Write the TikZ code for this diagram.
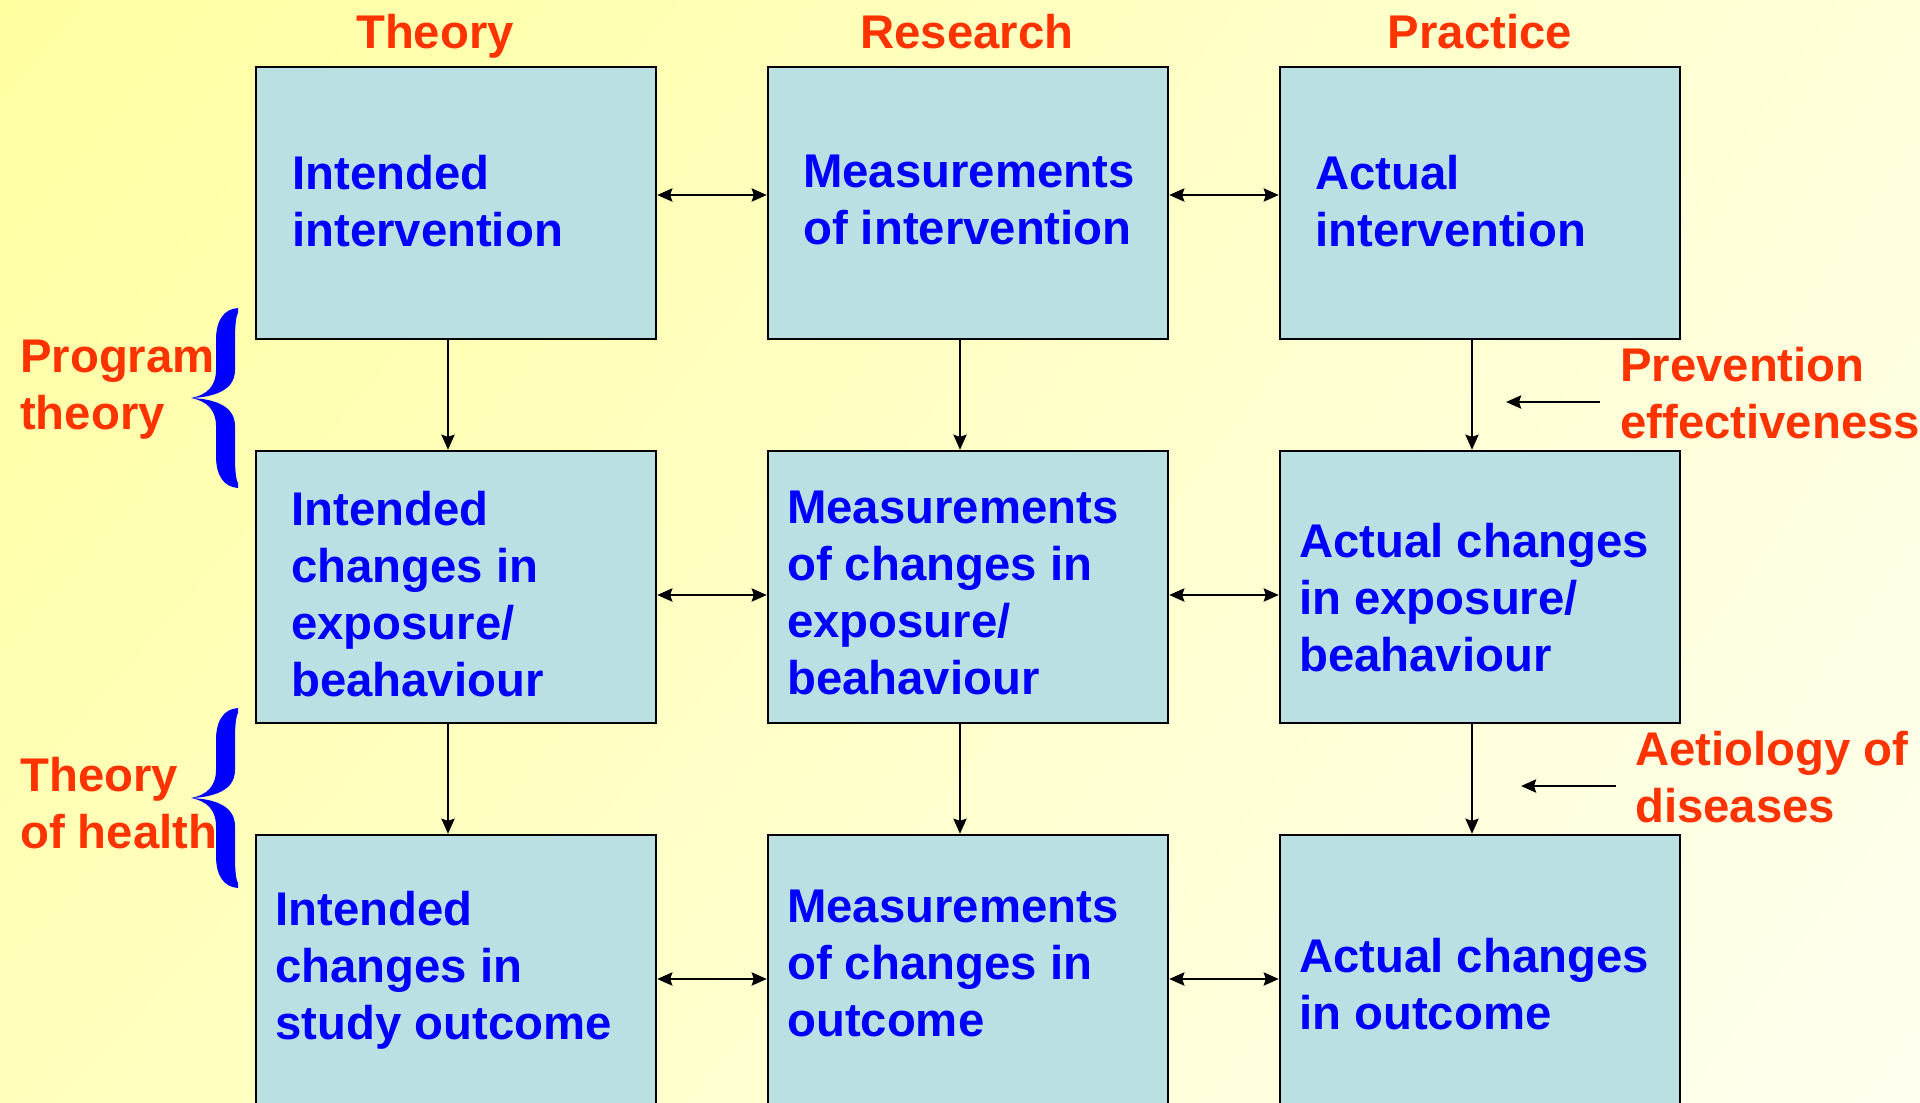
\documentclass[tikz,border=0pt]{standalone}
\usepackage{fontspec}
\setmainfont{Liberation Sans}
\usetikzlibrary{arrows.meta,shadings}

\definecolor{bgTL}{RGB}{255,255,160}
\definecolor{bgTR}{RGB}{255,255,218}
\definecolor{bgBL}{RGB}{255,255,188}
\definecolor{bgBR}{RGB}{255,255,240}
\definecolor{boxfill}{RGB}{187,224,227}
\definecolor{txtblue}{RGB}{0,0,255}
\definecolor{labred}{RGB}{255,51,0}

\newcommand\diagfont{\fontsize{47.3}{57}\selectfont\bfseries}

% curly brace as a filled outline; #1 = top y, #2 = bottom y (y grows downward)
\newcommand\curlybrace[2]{%
  \fill[txtblue]
    (238,#1) .. controls (224,#1+1) and (216,#1+12) .. (216,#1+32)
    -- (216,{(#1+#2)/2-28})
    .. controls (216,{(#1+#2)/2-12}) and (207,{(#1+#2)/2-3}) .. (191,{(#1+#2)/2})
    .. controls (207,{(#1+#2)/2+3}) and (216,{(#1+#2)/2+12}) .. (216,{(#1+#2)/2+28})
    -- (216,#2-32)
    .. controls (216,#2-12) and (224,#2-1) .. (238,#2)
    -- (238,#2-5)
    .. controls (236,#2-8) and (235,#2-18) .. (235,#2-32)
    -- (235,{(#1+#2)/2+28})
    .. controls (235,{(#1+#2)/2+8}) and (215,{(#1+#2)/2+1}) .. (191,{(#1+#2)/2})
    .. controls (215,{(#1+#2)/2-1}) and (235,{(#1+#2)/2-8}) .. (235,{(#1+#2)/2-28})
    -- (235,#1+32)
    .. controls (235,#1+18) and (236,#1+8) .. (238,#1+5)
    -- cycle;}

\begin{document}
\begin{tikzpicture}[
  x=1pt, y=-1pt,
  box/.style={draw=black, line width=2.4pt, fill=boxfill,
    minimum width=400pt, minimum height=272pt, inner sep=0pt},
  boxtext/.style={anchor=north west, align=left, inner sep=0pt,
    text=txtblue, font=\diagfont},
  redlabel/.style={align=left, inner sep=0pt, text=labred, font=\diagfont},
  tipstyle/.tip={Stealth[length=15pt,width=13pt,inset=2pt]},
  conn/.style={line width=2.8pt, -tipstyle},
  dconn/.style={line width=2.8pt, tipstyle-tipstyle},
]
% background
\useasboundingbox (0,0) rectangle (1920,1103);
\shade[upper left=bgTL, upper right=bgTR, lower left=bgBL, lower right=bgBR]
  (0,0) rectangle (1920,1103);

% column headings
\node[redlabel, anchor=base] (hth) at (435,48) {Theory};
\node[redlabel, anchor=base] (hre) at (967,48) {Research};
\node[redlabel, anchor=base] (hpr) at (1480,48) {Practice};

% boxes
\node[box] (b11) at (456,203) {};
\node[box] (b12) at (968,203) {};
\node[box] (b13) at (1480,203) {};
\node[box] (b21) at (456,587) {};
\node[box] (b22) at (968,587) {};
\node[box] (b23) at (1480,587) {};
\node[box] (b31) at (456,971) {};
\node[box] (b32) at (968,971) {};
\node[box] (b33) at (1480,971) {};

% box texts
\node[boxtext] (t11) at (292,155) {Intended\\intervention};
\node[boxtext] (t12) at (803,155) {Measurements\\of intervention};
\node[boxtext] (t13) at (1315,155) {Actual\\intervention};
\node[boxtext] (t21) at (291,491) {Intended\\changes in\\exposure/\\beahaviour};
\node[boxtext] (t22) at (787,491) {Measurements\\of changes in\\exposure/\\beahaviour};
\node[boxtext] (t23) at (1299,523) {Actual changes\\in exposure/\\beahaviour};
\node[boxtext] (t31) at (275,891) {Intended\\changes in\\study outcome};
\node[boxtext] (t32) at (787,890) {Measurements\\of changes in\\outcome};
\node[boxtext] (t33) at (1299,938) {Actual changes\\in outcome};

% horizontal two-way connectors
\draw[dconn] ([yshift=8pt]b11.east) -- ([yshift=8pt]b12.west);
\draw[dconn] ([yshift=8pt]b12.east) -- ([yshift=8pt]b13.west);
\draw[dconn] ([yshift=-8pt]b21.east) -- ([yshift=-8pt]b22.west);
\draw[dconn] ([yshift=-8pt]b22.east) -- ([yshift=-8pt]b23.west);
\draw[dconn] ([yshift=-8pt]b31.east) -- ([yshift=-8pt]b32.west);
\draw[dconn] ([yshift=-8pt]b32.east) -- ([yshift=-8pt]b33.west);

% vertical connectors
\draw[conn] ([xshift=-8pt]b11.south) -- ([xshift=-8pt]b21.north);
\draw[conn] ([xshift=-8pt]b12.south) -- ([xshift=-8pt]b22.north);
\draw[conn] ([xshift=-8pt]b13.south) -- ([xshift=-8pt]b23.north);
\draw[conn] ([xshift=-8pt]b21.south) -- ([xshift=-8pt]b31.north);
\draw[conn] ([xshift=-8pt]b22.south) -- ([xshift=-8pt]b32.north);
\draw[conn] ([xshift=-8pt]b23.south) -- ([xshift=-8pt]b33.north);

% left-hand labels with braces
\node[redlabel, anchor=north west] (lpt) at (20,340) {Program\\theory};
\node[redlabel, anchor=north west] (lth) at (20,757) {Theory\\of health};
\curlybrace{308}{488}
\curlybrace{708}{888}

% right-hand labels with pointers
\node[redlabel, anchor=north west] (rpe) at (1620,347) {Prevention\\effectiveness};
\node[redlabel, anchor=north west] (rae) at (1635,731) {Aetiology of\\diseases};
\coordinate (pe-tail) at (1600,402);
\coordinate (pe-tip) at (1506,402);
\coordinate (ae-tail) at (1616,786);
\coordinate (ae-tip) at (1521,786);
\draw[conn] (pe-tail) -- (pe-tip);
\draw[conn] (ae-tail) -- (ae-tip);
\end{tikzpicture}
\end{document}
